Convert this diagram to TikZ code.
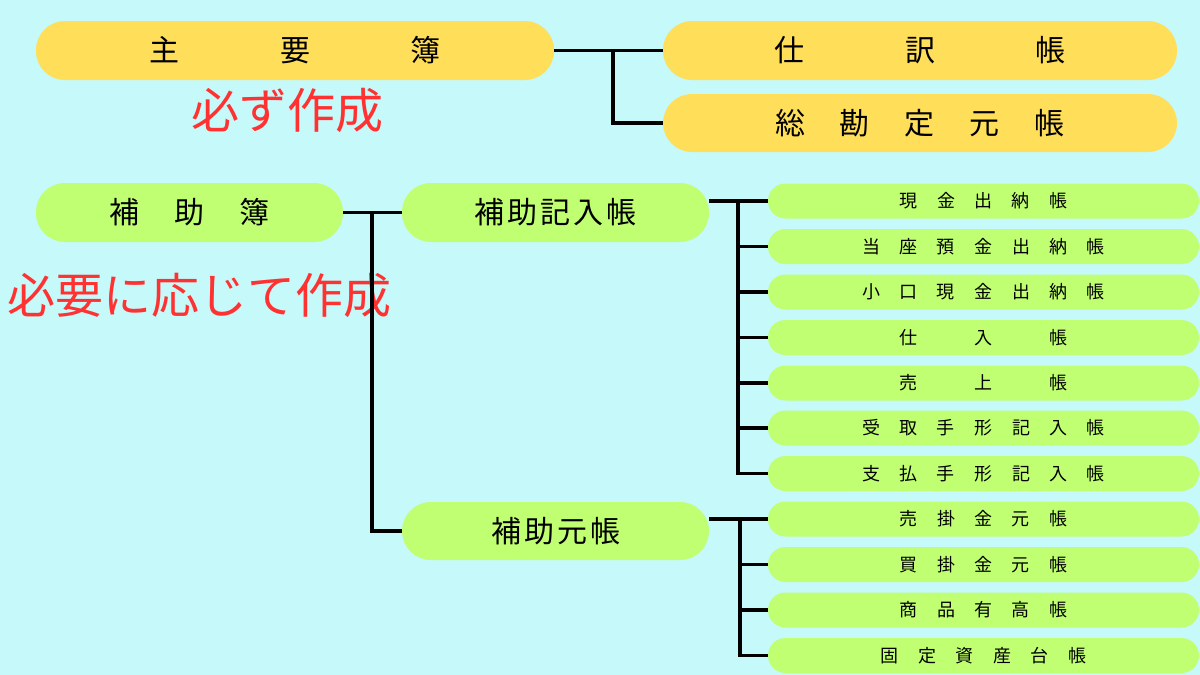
\documentclass[tikz,border=0pt]{standalone}
\usepackage{fontspec}
\setmainfont{Noto Sans CJK JP}
\definecolor{bgc}{RGB}{197,249,250}
\definecolor{pillY}{RGB}{255,222,89}
\definecolor{pillG}{RGB}{193,255,114}
\definecolor{redtxt}{RGB}{255,49,49}
\makeatletter
\def\spc#1#2{\def\pitchlen{#1}\spc@loop#2\relax}
\def\spc@loop#1{\ifx#1\relax\else\makebox[\pitchlen]{#1}\expandafter\spc@loop\fi}
\makeatother
\tikzset{
  bigY/.style={fill=pillY, rounded corners=29pt, inner sep=0pt, minimum height=59pt, font=\fontsize{30}{32}\selectfont},
  midG/.style={fill=pillG, rounded corners=29pt, inner sep=0pt, minimum width=307pt, minimum height=59pt, font=\fontsize{30}{32}\selectfont},
  smallG/.style={fill=pillG, rounded corners=17.5pt, inner sep=0pt, minimum width=431pt, minimum height=35pt, font=\fontsize{18}{20}\selectfont},
  conn/.style={draw=black, line width=3.5pt},
  note/.style={text=redtxt, inner sep=0pt, font=\fontsize{48}{50}\selectfont}
}
\begin{document}
\begin{tikzpicture}[x=1pt,y=-1pt]
\useasboundingbox (0,0) rectangle (1200,675);
\fill[bgc] (0,0) rectangle (1200,675);

% junctions
\coordinate (j1) at (613,50.5);
\coordinate (j2) at (372,212.5);
\coordinate (j3) at (738,201);
\coordinate (j4) at (740,519);

% top group
\node[bigY, minimum width=518pt] (shuyo) at (295,50.5) {\spc{130.5pt}{主要簿}};
\node[bigY, minimum width=514pt] (shiwake) at (920,50.5) {\spc{130.5pt}{仕訳帳}};
\node[bigY, minimum width=514pt, minimum height=58pt] (sokanjo) at (920,123) {\spc{65pt}{総勘定元帳}};
\node[note] (must) at (287,110) {必ず作成};

% middle group
\node[midG] (hojo) at (189.5,212.5) {\spc{65pt}{補助簿}};
\node[midG] (kinyu) at (555.5,212.5) {\spc{33pt}{補助記入帳}};
\node[midG, minimum height=58pt] (moto) at (555.5,531) {\spc{33pt}{補助元帳}};
\node[note] (asneeded) at (200,295) {必要に応じて作成};

% small pills
\node[smallG] (s1) at (983.5,201) {\spc{37.5pt}{現金出納帳}};
\node[smallG] (s2) at (983.5,246.5) {\spc{37.5pt}{当座預金出納帳}};
\node[smallG] (s3) at (983.5,292) {\spc{37.5pt}{小口現金出納帳}};
\node[smallG] (s4) at (983.5,337.5) {\spc{75pt}{仕入帳}};
\node[smallG] (s5) at (983.5,383) {\spc{75pt}{売上帳}};
\node[smallG] (s6) at (983.5,428) {\spc{37.5pt}{受取手形記入帳}};
\node[smallG] (s7) at (983.5,473.5) {\spc{37.5pt}{支払手形記入帳}};
\node[smallG] (s8) at (983.5,519) {\spc{37.5pt}{売掛金元帳}};
\node[smallG] (s9) at (983.5,564.5) {\spc{37.5pt}{買掛金元帳}};
\node[smallG] (s10) at (983.5,610) {\spc{37.5pt}{商品有高帳}};
\node[smallG] (s11) at (983.5,655.5) {\spc{37.5pt}{固定資産台帳}};

% connectors
\draw[conn] (shuyo.east) -- (shiwake.west);
\draw[conn] (j1) |- (sokanjo.west);
\draw[conn] (hojo.east) -- (kinyu.west);
\draw[conn] (j2) |- (moto.west);
\draw[conn] (kinyu.east |- s1.west) -- (s1.west);
\draw[conn] (j3) |- (s7.west);
\foreach \k in {2,...,6} \draw[conn] (j3 |- s\k.west) -- (s\k.west);
\draw[conn] (moto.east |- s8.west) -- (s8.west);
\draw[conn] (j4) |- (s11.west);
\foreach \k in {9,10} \draw[conn] (j4 |- s\k.west) -- (s\k.west);
\end{tikzpicture}
\end{document}
